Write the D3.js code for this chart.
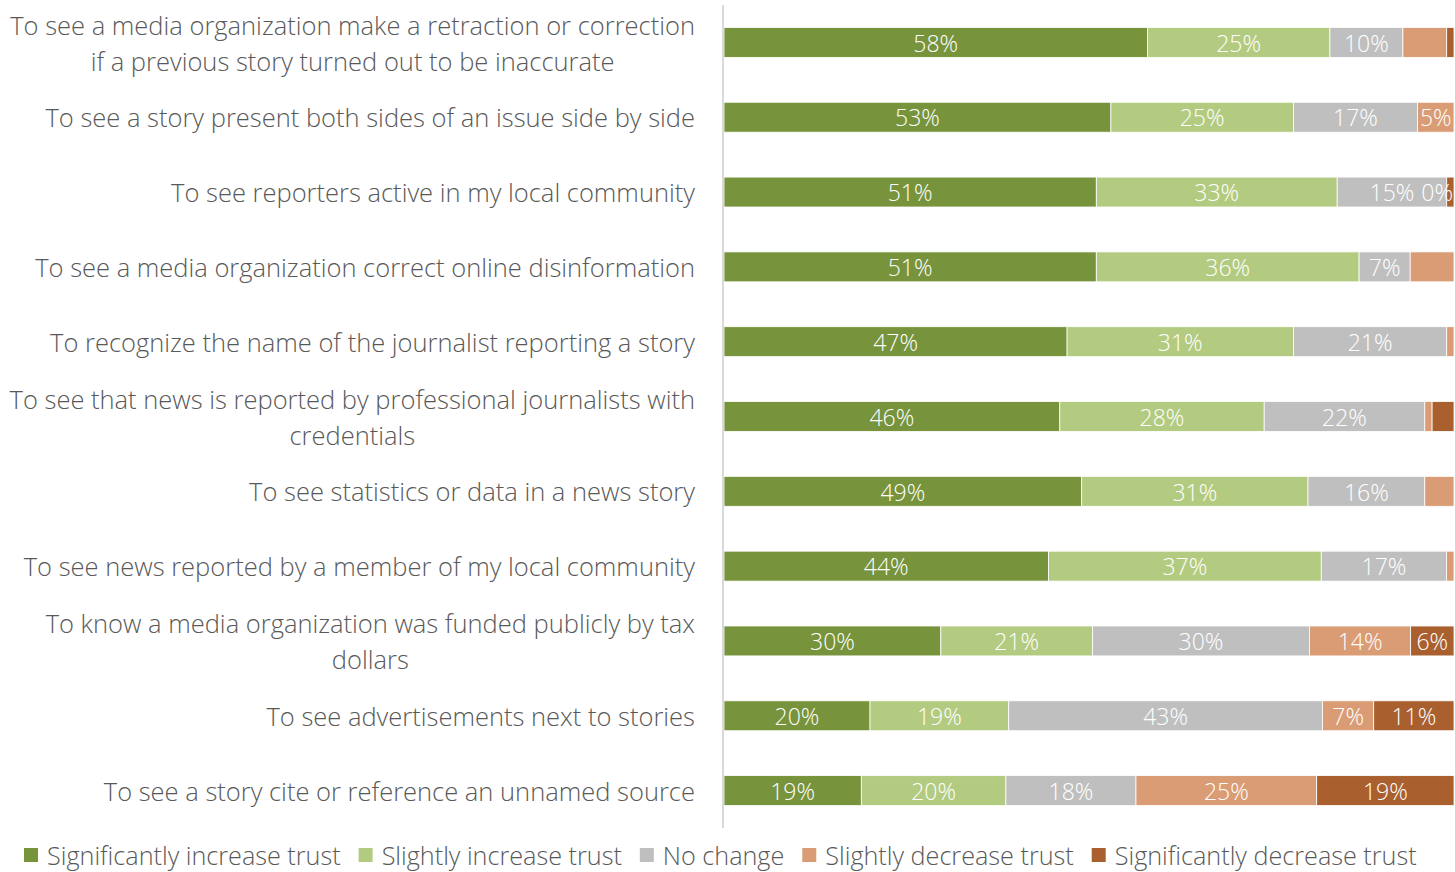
<!DOCTYPE html>
<html>
<head>
<meta charset="utf-8">
<script src="https://cdn.jsdelivr.net/npm/d3@7"></script>
<style>
  html, body { margin: 0; padding: 0; background: #fff; }
  svg { display: block; }
  text { font-family: "Open Sans", "Noto Sans", sans-serif; font-weight: 300; }
</style>
</head>
<body>
<svg id="chart" width="1455" height="872"></svg>
<script>
// Survey items (each array entry is one line of the label)
const categories = [
  ["To see a media organization make a retraction or correction", "if a previous story turned out to be inaccurate"],
  ["To see a story present both sides of an issue side by side"],
  ["To see reporters active in my local community"],
  ["To see a media organization correct online disinformation"],
  ["To recognize the name of the journalist reporting a story"],
  ["To see that news is reported by professional journalists with", "credentials"],
  ["To see statistics or data in a news story"],
  ["To see news reported by a member of my local community"],
  ["To know a media organization was funded publicly by tax", "dollars"],
  ["To see advertisements next to stories"],
  ["To see a story cite or reference an unnamed source"]
];

const seriesNames = [
  "Significantly increase trust",
  "Slightly increase trust",
  "No change",
  "Slightly decrease trust",
  "Significantly decrease trust"
];

// Percent of respondents per series, one value per item
const sigIncrease = [58, 53, 51, 51, 47, 46, 49, 44, 30, 20, 19];
const slIncrease  = [25, 25, 33, 36, 31, 28, 31, 37, 21, 19, 20];
const noChange    = [10, 17, 15,  7, 21, 22, 16, 17, 30, 43, 18];
const slDecrease  = [ 6,  5,  0,  6,  1,  1,  4,  1, 14,  7, 25];
const sigDecrease = [ 1,  0,  1,  0,  0,  3,  0,  0,  6, 11, 19];

// Data labels that are not shown: [item index, series index]
const hiddenLabels = [
  [0,3],[0,4],[1,4],[2,4],[3,3],[3,4],[4,3],[4,4],
  [5,3],[5,4],[6,3],[6,4],[7,3],[7,4]
];

const colors = ["#77933c", "#b3cb80", "#bfbfbf", "#da9c74", "#a9602e"];

const seriesValues = [sigIncrease, slIncrease, noChange, slDecrease, sigDecrease];

const rows = categories.map((c, i) => {
  const vals = seriesValues.map(s => s[i]);
  const total = d3.sum(vals);
  let acc = 0;
  const segs = vals.map((v, j) => {
    const s = { row: i, series: j, value: v, x0: acc / total, x1: (acc + v) / total };
    acc += v;
    return s;
  });
  return { i, lines: c, segs };
});

const svg = d3.select("#chart");

const y = d3.scaleBand()
  .domain(d3.range(categories.length))
  .range([5, 828])
  .paddingInner(0.6)
  .paddingOuter(0.3);

const x = d3.scaleLinear().domain([0, 1]).range([724, 1454]);

const isHidden = (r, s) => hiddenLabels.some(h => h[0] === r && h[1] === s);

// Stacked bars
const rowG = svg.selectAll("g.row").data(rows).join("g").attr("class", "row");

rowG.selectAll("rect").data(d => d.segs).join("rect")
  .attr("x", d => x(d.x0))
  .attr("y", d => y(d.row))
  .attr("width", d => Math.max(0, x(d.x1) - x(d.x0)))
  .attr("height", y.bandwidth())
  .attr("fill", d => colors[d.series])
  .attr("stroke", "#ffffff")
  .attr("stroke-width", 0.8);

// Value labels, kept inside the plot on the right edge
rowG.selectAll("text.val").data(d => d.segs.filter(s => !isHidden(s.row, s.series))).join("text")
  .attr("class", "val")
  .attr("y", d => y(d.row) + y.bandwidth() / 2)
  .attr("dy", "0.4em")
  .attr("text-anchor", "middle")
  .attr("fill", "#ffffff")
  .attr("font-size", 23)
  .text(d => d.value + "%")
  .attr("x", function(d) {
    const half = this.getComputedTextLength() / 2;
    return Math.min((x(d.x0) + x(d.x1)) / 2, x.range()[1] - half - 1);
  });

// Vertical axis line
svg.append("line")
  .attr("x1", 723).attr("x2", 723)
  .attr("y1", 5).attr("y2", 828)
  .attr("stroke", "#d9d9d9")
  .attr("stroke-width", 2);

// Category labels: right-aligned block, multi-line labels centred within it
const labelRight = 695;
const lineH = 36;
const labelG = svg.append("g");
rows.forEach(r => {
  const g = labelG.append("g");
  const cy = y(r.i) + y.bandwidth() / 2 + 1;
  const texts = r.lines.map((ln, k) => g.append("text")
    .attr("y", cy + (k - (r.lines.length - 1) / 2) * lineH)
    .attr("dy", "0.36em")
    .attr("fill", "#595959")
    .attr("font-size", 25.5)
    .text(ln));
  if (r.lines.length === 1) {
    texts[0].attr("x", labelRight).attr("text-anchor", "end");
  } else {
    const maxW = d3.max(texts, t => t.node().getComputedTextLength());
    texts.forEach(t => t.attr("x", labelRight - maxW / 2).attr("text-anchor", "middle"));
  }
});

// Legend
const legend = svg.append("g");
let lx = 24;
seriesNames.forEach((name, j) => {
  legend.append("rect")
    .attr("x", lx).attr("y", 848)
    .attr("width", 14).attr("height", 14)
    .attr("fill", colors[j]);
  const t = legend.append("text")
    .attr("x", lx + 23).attr("y", 856)
    .attr("dy", "0.36em")
    .attr("fill", "#595959")
    .attr("font-size", 25.2)
    .text(name);
  lx += 23 + t.node().getComputedTextLength() + 18;
});
</script>
</body>
</html>
